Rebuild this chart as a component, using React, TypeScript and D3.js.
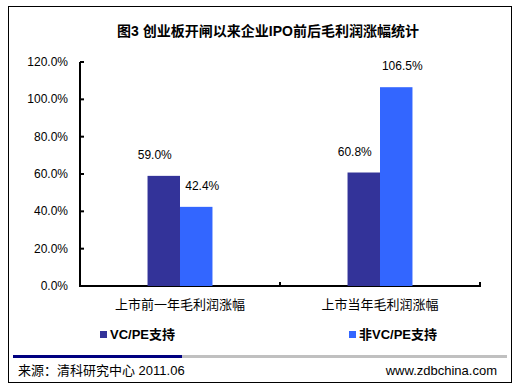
import * as d3 from "d3";

const categories = ["上市前一年毛利润涨幅", "上市当年毛利润涨幅"];
const seriesNames = ["VC/PE支持", "非VC/PE支持"];
const vcValues = [59.0, 60.8];
const nonVcValues = [42.4, 106.5];
const yTicks = [0, 20, 40, 60, 80, 100, 120];
const colors = ["#333399", "#3366FF"];

const width = 520;
const height = 389;
const font = "'Liberation Sans', Arial, 'Noto Sans CJK SC', sans-serif";

const App = () => {
  const x = d3.scaleBand().domain(categories).range([80, 480]);
  const inner = d3
    .scaleBand()
    .domain(seriesNames)
    .range([0, x.bandwidth()])
    .paddingInner(0)
    .paddingOuter(2.08);
  const y = d3.scaleLinear().domain([0, 120]).range([286, 62]);
  const series = [vcValues, nonVcValues];
  const labelShift = [-9, 6];

  return (
    <svg
      width={width}
      height={height}
      style={{ position: "absolute", left: 0, top: 0, fontFamily: font }}
    >
      <rect x={0} y={0} width={width} height={height} fill="#fff" />
      <rect x={8.5} y={6.5} width={503} height={376} fill="none" stroke="#000" />
      <text
        x={268}
        y={36}
        textAnchor="middle"
        fontSize={14}
        fontWeight="bold"
      >
        图3 创业板开闸以来企业IPO前后毛利润涨幅统计
      </text>

      {/* y axis */}
      <line x1={80} x2={80} y1={y(120)} y2={y(0) + 1} stroke="#000" strokeWidth={2} />
      {yTicks.map((t) => (
        <g key={t}>
          <line x1={80} x2={84} y1={y(t)} y2={y(t)} stroke="#000" strokeWidth={2} />
          <text x={68} y={y(t) + 4} textAnchor="end" fontSize={12}>
            {t.toFixed(1)}%
          </text>
        </g>
      ))}

      {/* x axis */}
      <line x1={79} x2={481} y1={y(0)} y2={y(0)} stroke="#000" strokeWidth={2} />
      {[80, 280, 480].map((px) => (
        <line key={px} x1={px} x2={px} y1={y(0)} y2={y(0) - 4} stroke="#000" strokeWidth={2} />
      ))}

      {series.map((vals, si) =>
        vals.map((v, ci) => {
          const bx = (x(categories[ci]) ?? 0) + (inner(seriesNames[si]) ?? 0);
          return (
            <g key={`${si}-${ci}`}>
              <rect
                x={bx}
                y={y(v)}
                width={inner.bandwidth()}
                height={y(0) - y(v)}
                fill={colors[si]}
              />
              <text
                x={bx + inner.bandwidth() / 2 + labelShift[si]}
                y={y(v) - 17}
                textAnchor="middle"
                fontSize={12}
              >
                {v.toFixed(1)}%
              </text>
            </g>
          );
        })
      )}

      {categories.map((c) => (
        <text
          key={c}
          x={(x(c) ?? 0) + x.bandwidth() / 2}
          y={309}
          textAnchor="middle"
          fontSize={13}
        >
          {c}
        </text>
      ))}

      {/* legend */}
      {seriesNames.map((s, i) => (
        <g key={s} transform={`translate(${[100, 349][i]},331)`}>
          <rect x={0} y={0} width={7} height={7} fill={colors[i]} />
          <text x={10} y={8} fontSize={13} fontWeight="bold">
            {s}
          </text>
        </g>
      ))}

      <rect x={13} y={355} width={169} height={3} fill="#000080" />
      <rect x={182} y={355} width={325} height={3} fill="#C0C0C0" />
      <text x={18} y={375} fontSize={13}>
        来源：清科研究中心 2011.06
      </text>
      <text x={497} y={375} textAnchor="end" fontSize={13}>
        www.zdbchina.com
      </text>
    </svg>
  );
};

export default App;
